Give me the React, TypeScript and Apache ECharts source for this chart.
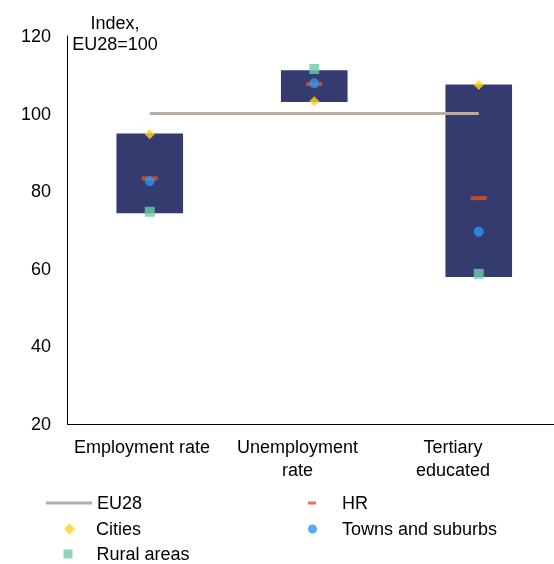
import React, { useEffect, useRef } from "react";
import * as echarts from "echarts";

const categories = ["Employment rate", "Unemployment\nrate", "Tertiary\neducated"];
const yTicks = [20, 40, 60, 80, 100, 120];
const rangeLow = [74.3, 103.0, 57.9];
const rangeHigh = [94.9, 111.2, 107.5];
const eu28 = [100, 100, 100];
const hr = [83.3, 107.6, 78.2];
const cities = [94.7, 103.2, 107.4];
const towns = [82.6, 107.8, 69.6];
const rural = [74.7, 111.5, 58.7];

const NAVY = "#343B6F";
const FONT = "Liberation Sans, Arial, sans-serif";

export default function App() {
  const ref = useRef<HTMLDivElement>(null);
  useEffect(() => {
    if (!ref.current) return;
    const chart = echarts.init(ref.current, null, { renderer: "svg" });
    const diff = rangeHigh.map((h, i) => +(h - rangeLow[i]).toFixed(2));
    const txt = { color: "#000", fontSize: 18, fontFamily: FONT };
    const legendBase = {
      orient: "horizontal",
      selectedMode: false,
      padding: 0,
    };
    const lt = (pad: number) => ({ ...txt, padding: [0, 0, 0, pad] });
    chart.setOption({
      animation: false,
      textStyle: { fontFamily: FONT },
      title: {
        text: "Index,\nEU28=100",
        left: 110,
        top: 7,
        textAlign: "center",
        textStyle: { ...txt, fontWeight: "normal", lineHeight: 21 },
      },
      grid: [
        { left: 67.5, right: 0, top: 36, bottom: 140 },
        { left: 64.25, right: 30.25, top: 36, bottom: 140 },
      ],
      xAxis: [
        {
          type: "category",
          gridIndex: 0,
          data: categories,
          axisLine: { lineStyle: { color: "#000", width: 1 } },
          axisTick: { show: false },
          axisLabel: { show: false },
        },
        {
          type: "category",
          gridIndex: 1,
          data: categories,
          axisLine: { show: false },
          axisTick: { show: false },
          axisLabel: { ...txt, lineHeight: 23, margin: 11, interval: 0 },
        },
      ],
      yAxis: [
        {
          type: "value",
          gridIndex: 0,
          min: yTicks[0],
          max: yTicks[yTicks.length - 1],
          interval: 20,
          axisLine: { show: true, lineStyle: { color: "#000", width: 1 } },
          axisTick: { show: false },
          splitLine: { show: false },
          axisLabel: { ...txt, margin: 16.5 },
        },
        { type: "value", gridIndex: 1, show: false, min: 0, max: 1 },
      ],
      legend: [
        {
          ...legendBase,
          left: 46,
          top: 494,
          itemWidth: 46,
          itemHeight: 3,
          textStyle: lt(0),
          data: [{ name: "EU28", icon: "path://M0,0H46V3H0Z" }],
        },
        {
          ...legendBase,
          left: 308,
          top: 494,
          itemWidth: 8,
          itemHeight: 3,
          textStyle: lt(21),
          data: [{ name: "HR", icon: "path://M0,0H8V3H0Z" }],
        },
        {
          ...legendBase,
          left: 64,
          top: 520,
          itemWidth: 11,
          itemHeight: 11,
          textStyle: lt(16),
          data: [{ name: "Cities", icon: "diamond" }],
        },
        {
          ...legendBase,
          left: 308,
          top: 520,
          itemWidth: 9,
          itemHeight: 9,
          textStyle: lt(20),
          data: [{ name: "Towns and suburbs", icon: "circle" }],
        },
        {
          ...legendBase,
          left: 63.5,
          top: 545,
          itemWidth: 9,
          itemHeight: 9,
          textStyle: lt(19),
          data: [{ name: "Rural areas", icon: "rect" }],
        },
      ],
      series: [
        {
          name: "base",
          type: "bar",
          stack: "box",
          data: rangeLow,
          barWidth: "40.5%",
          itemStyle: { color: "transparent" },
          silent: true,
          z: 1,
        },
        {
          name: "range",
          type: "bar",
          stack: "box",
          data: diff,
          barWidth: "40.5%",
          itemStyle: { color: NAVY },
          z: 1,
        },
        {
          name: "EU28",
          type: "line",
          data: eu28,
          symbol: "none",
          lineStyle: { color: "#B9ACA5", width: 3 },
          itemStyle: { color: "#B9ACA5" },
          z: 3,
        },
        {
          name: "HR",
          type: "scatter",
          data: hr,
          symbol: "rect",
          symbolSize: [16, 4],
          itemStyle: { color: "#E8501E" },
          z: 4,
        },
        {
          name: "Cities",
          type: "scatter",
          data: cities,
          symbol: "diamond",
          symbolSize: 10,
          itemStyle: { color: "#FFD21A" },
          z: 5,
        },
        {
          name: "Towns and suburbs",
          type: "scatter",
          data: towns,
          symbol: "circle",
          symbolSize: 10,
          itemStyle: { color: "#2E95F2" },
          z: 5,
        },
        {
          name: "Rural areas",
          type: "scatter",
          data: rural,
          symbol: "rect",
          symbolSize: 10,
          itemStyle: { color: "#6DCCA9" },
          z: 5,
        },
      ],
    });
    return () => chart.dispose();
  }, []);
  return (
    <div
      ref={ref}
      style={{ position: "fixed", left: 0, top: 0, width: 561, height: 564 }}
    />
  );
}
